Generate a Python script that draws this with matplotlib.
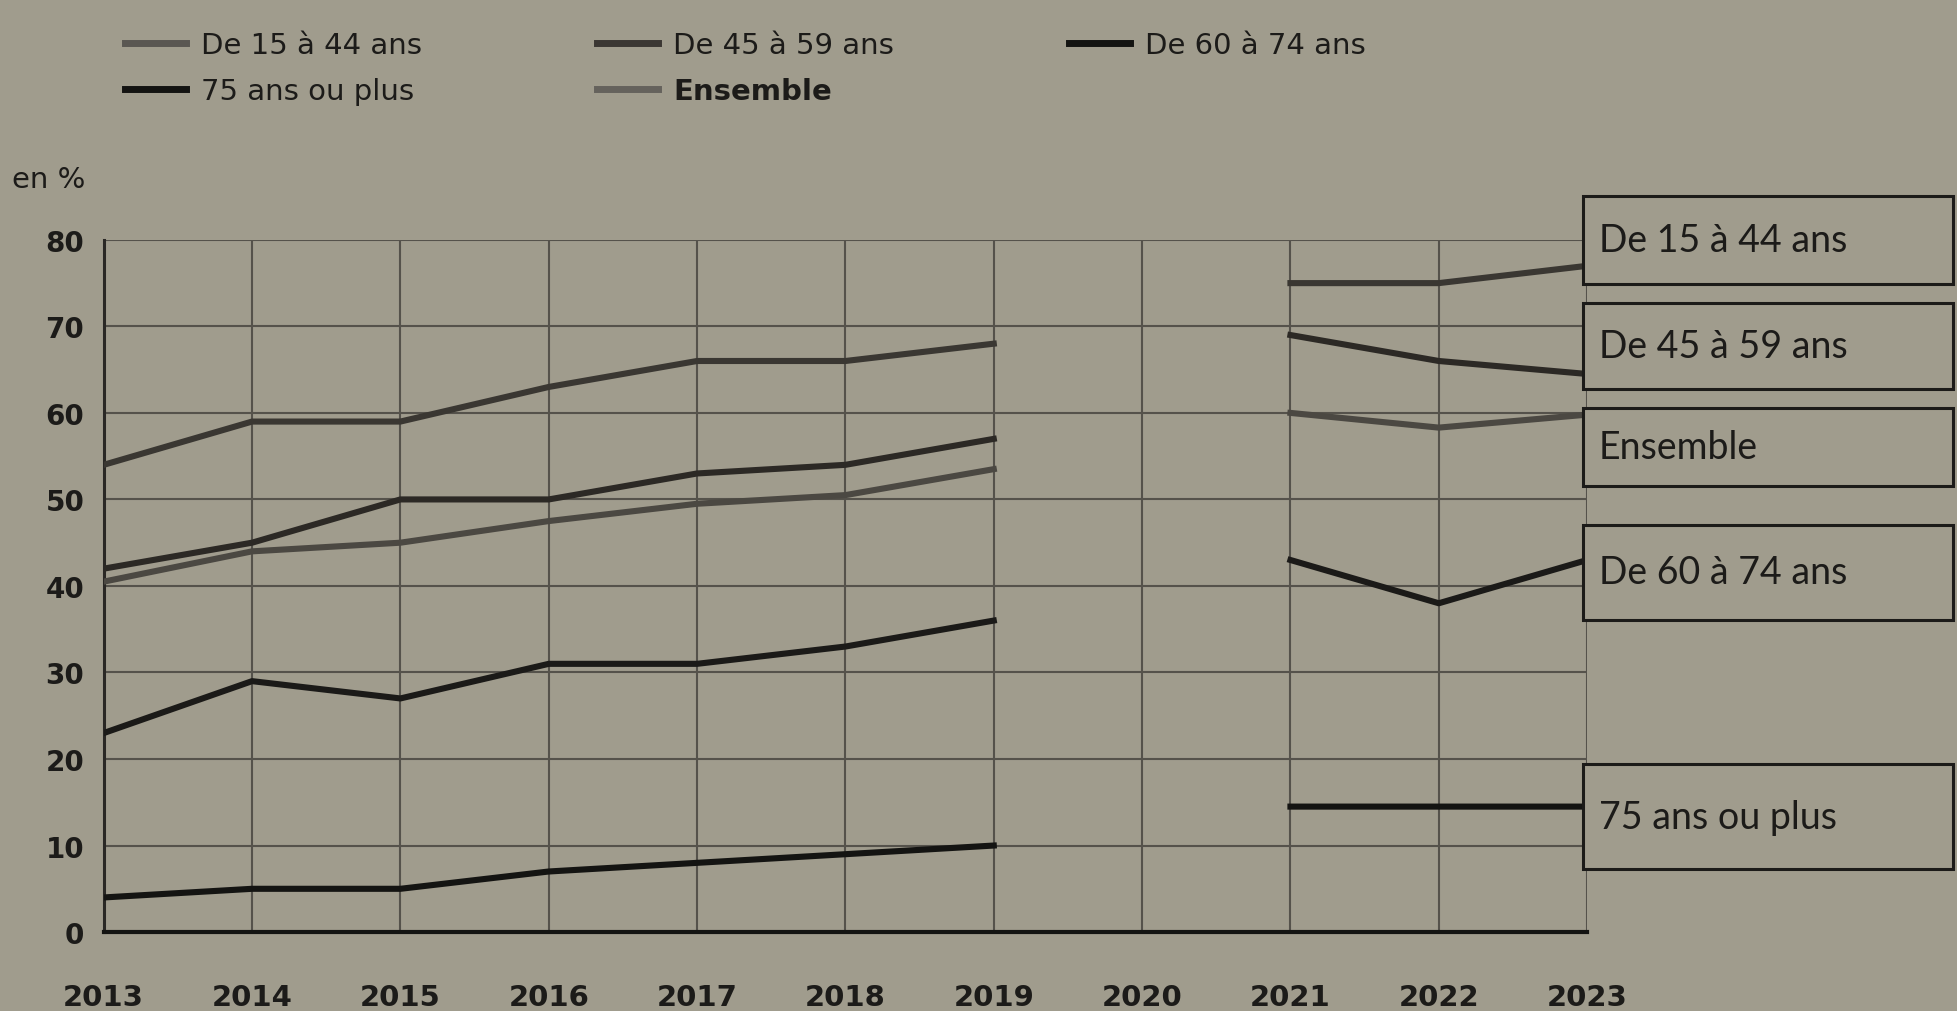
import numpy as np
import matplotlib
matplotlib.use("Agg")
import matplotlib.pyplot as plt
import matplotlib.transforms as mtransforms
from matplotlib.patches import Rectangle

plt.rcParams['font.family'] = ['DejaVu Sans']

# ------------------------------------------------------------
# Données (en %)
# ------------------------------------------------------------
years = [2013, 2014, 2015, 2016, 2017, 2018, 2019, 2020, 2021, 2022, 2023]
nan = np.nan
age_15_44 = [54, 59, 59, 63, 66, 66, 68, nan, 75, 75, 77]
age_45_59 = [42, 45, 50, 50, 53, 54, 57, nan, 69, 66, 64.5]
ensemble = [40.5, 44, 45, 47.5, 49.5, 50.5, 53.5, nan, 60, 58.3, 59.8]
age_60_74 = [23, 29, 27, 31, 31, 33, 36, nan, 43, 38, 43]
age_75_plus = [4, 5, 5, 7, 8, 9, 10, nan, 14.5, 14.5, 14.5]

labels = ["De 15 à 44 ans", "De 45 à 59 ans", "De 60 à 74 ans",
          "75 ans ou plus", "Ensemble"]
y_ticks = [0, 10, 20, 30, 40, 50, 60, 70, 80]

# ------------------------------------------------------------
# Style
# ------------------------------------------------------------
BG = '#a09c8d'
GRID = '#55524b'
INK = '#1c1b19'
line_colors = {
    "De 15 à 44 ans": '#3a3732',
    "De 45 à 59 ans": '#2c2925',
    "De 60 à 74 ans": '#1b1a18',
    "75 ans ou plus": '#141412',
    "Ensemble": '#4b4842',
}
legend_colors = {
    "De 15 à 44 ans": '#5a5752',
    "De 45 à 59 ans": '#3b3733',
    "De 60 à 74 ans": '#141412',
    "75 ans ou plus": '#141412',
    "Ensemble": '#65625c',
}

fig = plt.figure(figsize=(19.57, 10.12), dpi=100, facecolor=BG)
ax = fig.add_axes([0.053, 0.078, 0.758, 0.684])
ax.set_facecolor('none')

series = {
    "De 15 à 44 ans": age_15_44,
    "De 45 à 59 ans": age_45_59,
    "De 60 à 74 ans": age_60_74,
    "75 ans ou plus": age_75_plus,
    "Ensemble": ensemble,
}
for name in ["Ensemble", "De 15 à 44 ans", "De 45 à 59 ans",
             "De 60 à 74 ans", "75 ans ou plus"]:
    ax.plot(years, series[name], color=line_colors[name], lw=4.4,
            solid_joinstyle='round', zorder=3)

ax.set_xlim(2013, 2023)
ax.set_ylim(0, 80)
ax.set_xticks(years)
ax.set_yticks(y_ticks)
ax.grid(True, color=GRID, lw=1.5)
ax.tick_params(length=0)
ax.tick_params(axis='x', pad=37, labelsize=21, colors=INK)
ax.tick_params(axis='y', pad=14, labelsize=20, colors=INK)
for lab in ax.get_xticklabels() + ax.get_yticklabels():
    lab.set_fontweight('bold')
for side in ['top', 'right']:
    ax.spines[side].set_visible(False)
ax.spines['left'].set_color('#2a2825')
ax.spines['left'].set_linewidth(2.2)
ax.spines['bottom'].set_color('#141412')
ax.spines['bottom'].set_linewidth(3)

fig.text(0.006, 0.822, "en %", fontsize=21, color=INK, va='center')

# ------------------------------------------------------------
# Étiquettes encadrées à droite
# ------------------------------------------------------------
trans = mtransforms.blended_transform_factory(fig.transFigure, ax.transData)
boxes = [("De 15 à 44 ans", 74.9, 85.1),
         ("De 45 à 59 ans", 62.8, 72.7),
         ("Ensemble", 51.6, 60.6),
         ("De 60 à 74 ans", 36.1, 47.1),
         ("75 ans ou plus", 7.3, 19.4)]
x0, x1 = 0.809, 0.998
for text, lo, hi in boxes:
    ax.add_patch(Rectangle((x0, lo), x1 - x0, hi - lo, transform=trans,
                           fill=True, facecolor=BG, edgecolor=INK,
                           lw=2.2, clip_on=False, zorder=5))
    ax.text(x0 + 0.008, (lo + hi) / 2, text, transform=trans,
            fontsize=27, family=['Lato', 'DejaVu Sans'], color=INK,
            ha='left', va='center', zorder=6, clip_on=False)

# ------------------------------------------------------------
# Légende
# ------------------------------------------------------------
order = ["De 15 à 44 ans", "75 ans ou plus", "De 45 à 59 ans",
         "Ensemble", "De 60 à 74 ans"]
handles = [plt.Line2D([], [], color=legend_colors[n], lw=5) for n in order]
leg = fig.legend(handles, order, ncol=3, loc='upper left',
                 bbox_to_anchor=(0.064, 0.968), frameon=False,
                 fontsize=21, handlelength=2.1, handletextpad=0.5,
                 columnspacing=6.0, labelspacing=0.6, borderpad=0,
                 borderaxespad=0)
for t in leg.get_texts():
    t.set_color(INK)
    if t.get_text() == "Ensemble":
        t.set_fontweight('bold')

fig.savefig('out.png', dpi=100, facecolor=BG)
